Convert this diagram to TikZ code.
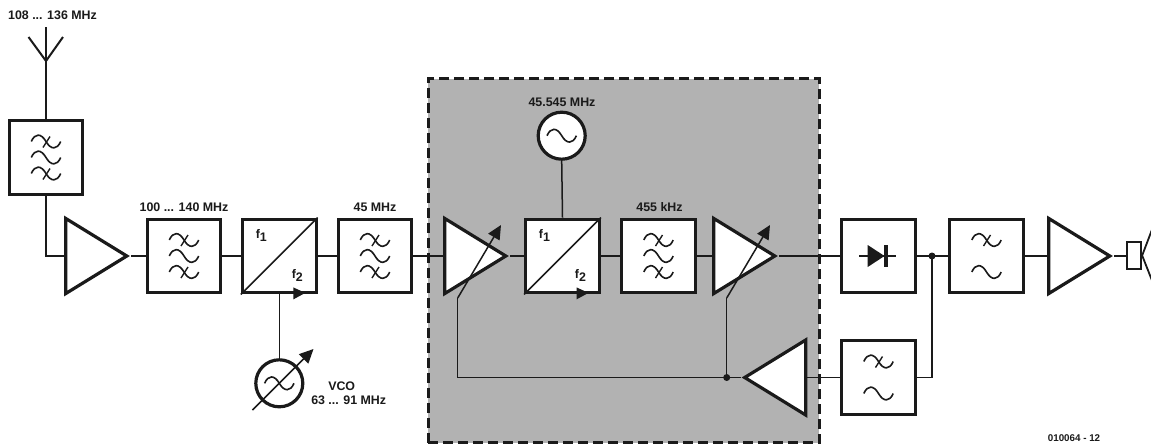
\documentclass[tikz,border=0pt]{standalone}
\usepackage{fontspec}
\setmainfont{Liberation Sans}
\usetikzlibrary{shapes.geometric,arrows.meta,calc}
\definecolor{ink}{HTML}{1A1A1A}
\definecolor{panel}{HTML}{B2B2B2}
\newcommand{\fsub}[1]{f\raisebox{-.32em}{#1}}
\tikzset{
  x=1pt,y=-1pt,
  wire/.style={line width=1.5pt,draw=ink},
  box/.style={rectangle,draw=ink,fill=white,line width=3.2pt,minimum width=73.6pt,minimum height=73.6pt,inner sep=0pt},
  amp/.style={isosceles triangle,isosceles triangle stretches,draw=ink,fill=white,line width=3.2pt,inner sep=0pt,minimum width=75pt,minimum height=61pt,anchor=apex},
  lab/.style={font=\bfseries\fontsize{12.4}{14}\selectfont,text=ink,inner sep=0pt},
  sublab/.style={font=\bfseries\fontsize{12.4}{14}\selectfont,text=ink,inner sep=0pt},
  osc/.style={circle,draw=ink,fill=white,line width=3.2pt,minimum size=47pt,inner sep=0pt},
  dotn/.style={circle,fill=ink,minimum size=7pt,inner sep=0pt},
  tune/.style={wire,-{Triangle[length=14pt,width=13pt]}},
  wavy/.pic={\draw[line width=1.6pt,draw=ink] (-14.7,0) .. controls (-11,-8.5) and (-5,-8.5) .. (0,0) .. controls (5,8.5) and (11,8.5) .. (14.7,0);},
  wavex/.pic={\draw[line width=1.6pt,draw=ink] (-14.7,0) .. controls (-11,-8.5) and (-5,-8.5) .. (0,0) .. controls (5,8.5) and (11,8.5) .. (14.7,0); \draw[line width=1.4pt,draw=ink] (-3,6) -- (4,-5);}
}
\newcommand{\threewave}[1]{\pic at ($(#1)+(0,-16)$) {wavex};\pic at (#1) {wavy};\pic at ($(#1)+(0,16)$) {wavex};}
\newcommand{\twowave}[1]{\pic at ($(#1)+(0,-16)$) {wavex};\pic at ($(#1)+(0,16)$) {wavy};}
\newcommand{\mixbits}[1]{%
  \draw[wire] (#1.south west) -- (#1.north east);
  \node[sublab] at ($(#1)+(-18,-20.5)$) {\fsub{1}};
  \node[sublab] at ($(#1)+(18,19.5)$) {\fsub{2}};
  \fill[ink] ($(#1.south)+(14,-7)$) -- ($(#1.south)+(26,-1.5)$) -- ($(#1.south)+(14,5)$) -- cycle;
}
\begin{document}
\begin{tikzpicture}
\clip (0,0) rectangle (1151,445);
\fill[white] (0,0) rectangle (1151,445);
\node[draw=ink,fill=panel,dash pattern=on 10pt off 5pt,line width=3pt,rectangle,minimum width=391pt,minimum height=364pt,inner sep=0pt] (panel) at (623.5,260.5) {};
% nodes
\node[box] (fa) at (46,157.5) {};
\node[amp] (a1) at (131,256) {};
\node[box] (fb) at (184,256) {};
\node[box] (m1) at (279.3,256) {};
\node[box] (fc) at (375,256) {};
\node[amp] (a2) at (510,256) {};
\node[box] (m2) at (562.5,256) {};
\node[box] (fd) at (658.5,256) {};
\node[amp] (a3) at (779,256) {};
\node[box] (det) at (878.5,256) {};
\node[box] (fe) at (986.5,256) {};
\node[amp] (a4) at (1114,256) {};
\node[box] (ff) at (878.5,377.5) {};
\node[amp,shape border rotate=180] (a5) at (740.5,377.5) {};
\node[osc] (lo) at (561.7,135.7) {};
\node[osc] (vco) at (279.3,383.3) {};
\node[rectangle,draw=ink,fill=white,line width=1.8pt,minimum width=14.5pt,minimum height=26.5pt,inner sep=0pt] (spk) at (1134,255.5) {};
\coordinate (mast) at (46,27);
\coordinate (vtip) at (46,61);
\coordinate (vl) at (28.5,37);
\coordinate (vr) at (63,37);
\node[dotn] (d1) at (932,256) {};
\node[dotn] (d2) at (726.7,377.5) {};
\coordinate (up1) at (457.7,298);
\coordinate (up2) at (726.7,298);
\coordinate (t1) at (501,225);
\coordinate (t2) at (770,225);
\coordinate (corner) at (457.7,377.5);
\coordinate (conea) at (1153,227);
\coordinate (coneb) at (1153,283);
\coordinate (vs) at (252.5,410);
\coordinate (ve) at (313.5,349);
% wires
\draw[wire] (mast) -- (fa.north);
\draw[line width=2pt,draw=ink] (vl) -- (vtip) -- (vr);
\draw[wire] (fa.south) |- (a1.lower side);
\draw[wire] (a1.apex) -- (fb.west);
\draw[wire] (fb.east) -- (m1.west);
\draw[wire] (m1.east) -- (fc.west);
\draw[wire] (fc.east) -- (a2.lower side);
\draw[wire] (a2.apex) -- (m2.west);
\draw[wire] (m2.east) -- (fd.west);
\draw[wire] (fd.east) -- (a3.lower side);
\draw[wire] (a3.apex) -- (det.west);
\draw[wire] (det.east) -- (fe.west);
\draw[wire] (fe.east) -- (a4.lower side);
\draw[wire] (a4.apex) -- (a4.apex -| spk.west);
\draw[wire] (lo.south) -- (m2.north);
\draw[wire] (vco.north) -- (m1.south);
\draw[wire] (ff.east) -| (d1.center);
\draw[wire] (a5.lower side) -- (ff.west);
\draw[wire] (a5.apex) -- (corner) -- (up1);
\draw[tune] (up1) -- (t1);
\draw[wire] (d2.center) -- (up2);
\draw[tune] (up2) -- (t2);
\draw[tune] (vs) -- (ve);
\draw[line width=1.8pt,draw=ink] (conea) -- (spk.east) -- (coneb);
% symbols
\threewave{fa}\threewave{fb}\threewave{fc}\threewave{fd}
\twowave{fe}\twowave{ff}
\mixbits{m1}\mixbits{m2}
\pic at (lo) {wavy};
\pic at (vco) {wavy};
\fill[ink] ($(det)+(-10.8,-11)$) -- ($(det)+(6,0)$) -- ($(det)+(-10.8,11)$) -- cycle;
\fill[ink] ($(det)+(5,-11)$) rectangle ($(det)+(9.5,11)$);
\draw[wire] ($(det)+(-19.5,0)$) -- ($(det)+(17.5,0)$);
% labels
\node[lab] (l1) at (52.5,15) {108 ... 136 MHz};
\node[lab] (l2) at (184,207) {100 ... 140 MHz};
\node[lab] (l3) at (375,207) {45 MHz};
\node[lab] (l4) at (562,102) {45.545 MHz};
\node[lab] (l5) at (659.5,207) {455 kHz};
\node[lab,align=center] (l6) at (348.7,393.5) {VCO\hspace*{14pt}\\63 ... 91 MHz};
\node[lab,font=\bfseries\fontsize{9.8}{12}\selectfont] (l7) at (1074,438.5) {010064 - 12};
\end{tikzpicture}
\end{document}
